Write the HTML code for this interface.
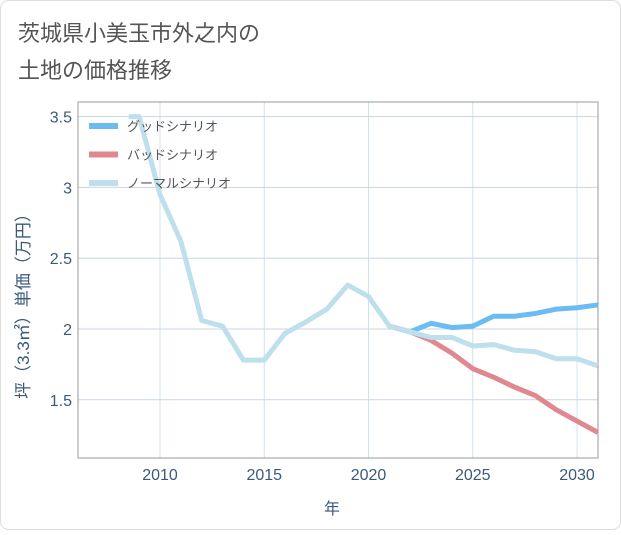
<!DOCTYPE html>
<html><head><meta charset="utf-8"><style>
body{margin:0;background:#fff;font-family:"Liberation Sans","Noto Sans CJK JP",sans-serif}
#wrap{position:relative;width:621px;height:530px}
</style></head><body>
<div id="wrap">
<svg id="svg" width="621" height="530" xmlns="http://www.w3.org/2000/svg">
<rect x="0.5" y="0.5" width="620" height="529" rx="8" fill="#fff" stroke="#ddd"/>
<text x="18" y="41" font-size="22" fill="#555" font-family="Liberation Sans,Noto Sans CJK JP,sans-serif">茨城県小美玉市外之内の</text>
<text x="18" y="78" font-size="22" fill="#555" font-family="Liberation Sans,Noto Sans CJK JP,sans-serif">土地の価格推移</text>
<g id="grid"></g>
<rect x="78" y="102" width="520" height="356" fill="none" stroke="#999"/>
<g id="series"></g>
<g id="legend"></g>
<text x="0" y="0" transform="translate(29,302) rotate(-90)" text-anchor="middle" font-size="17" fill="#3b5a7a" font-family="Liberation Sans,Noto Sans CJK JP,sans-serif">坪（3.3㎡）単価（万円）</text>
<text x="332" y="514" text-anchor="middle" font-size="16" fill="#3b5a7a" font-family="Liberation Sans,Noto Sans CJK JP,sans-serif">年</text>
</svg>
</div>
<script>
const xTicks=[2010,2015,2020,2025,2030];
const yTicks=[1.5,2,2.5,3,3.5];
const yTickLabels=["1.5","2","2.5","3","3.5"];
const normalYears=[2008.5,2009,2010,2011,2012,2013,2014,2015,2016,2017,2018,2019,2020,2021,2022,2023,2024,2025,2026,2027,2028,2029,2030,2031];
const normalValues=[3.5,3.5,2.95,2.62,2.06,2.02,1.78,1.78,1.97,2.05,2.14,2.31,2.23,2.02,1.98,1.94,1.94,1.88,1.89,1.85,1.84,1.79,1.79,1.74];
const goodYears=[2021,2022,2023,2024,2025,2026,2027,2028,2029,2030,2031];
const goodValues=[2.02,1.98,2.04,2.01,2.02,2.09,2.09,2.11,2.14,2.15,2.17];
const badYears=[2021,2022,2023,2024,2025,2026,2027,2028,2029,2030,2031];
const badValues=[2.02,1.98,1.92,1.83,1.72,1.66,1.59,1.53,1.43,1.35,1.27];
const NS="http://www.w3.org/2000/svg";
const X0=78,X1=598,Y0=102,Y1=458;
function xs(y){return 160+(y-2010)*20.85;}
function ys(v){return 329-(v-2)*141.6;}
function mk(t,a){const e=document.createElementNS(NS,t);for(const k in a)e.setAttribute(k,a[k]);return e;}
const grid=document.getElementById('grid');
xTicks.forEach(t=>{
 const l=mk('line',{x1:xs(t),x2:xs(t),y1:Y0,y2:Y1,stroke:'#cfe3ee','stroke-width':1});
 
 
 grid.appendChild(l);
 const tx=mk('text',{x:xs(t),y:480,'text-anchor':'middle','font-size':16,fill:'#3b5a7a'});
 
 
 tx.textContent=t;grid.appendChild(tx);
});
yTicks.forEach((t,i)=>{
 const l=mk('line',{x1:X0,x2:X1,y1:ys(t),y2:ys(t),stroke:'#c9d6e2','stroke-width':1});
 
 
 grid.appendChild(l);
 const tx=mk('text',{x:72,y:ys(t)+6,'text-anchor':'end','font-size':16,fill:'#3b5a7a'});
 
 
 tx.textContent=yTickLabels[i];grid.appendChild(tx);
});
const ser=document.getElementById('series');
function line(ys_,vs,color,name){
 const p=mk('polyline',{points:ys_.map((y,i)=>xs(y)+','+ys(vs[i])).join(' '),fill:'none',stroke:color,'stroke-width':5,'stroke-linejoin':'round','stroke-linecap':'butt'});
 
 
 ser.appendChild(p);
}
const cp=mk('clipPath',{id:'cp'});cp.appendChild(mk('rect',{x:X0,y:Y0,width:X1-X0,height:Y1-Y0}));
document.getElementById('svg').appendChild(cp);ser.setAttribute('clip-path','url(#cp)');
line(goodYears,goodValues,'#6bbcf2','good-scenario-line');
line(badYears,badValues,'#e0888f','bad-scenario-line');
line(normalYears,normalValues,'#bde0ec','normal-scenario-line');
const leg=document.getElementById('legend');
[['グッドシナリオ','#6bbcf2','legend-good'],['バッドシナリオ','#e0888f','legend-bad'],['ノーマルシナリオ','#bde0ec','legend-normal']].forEach((d,i)=>{
 const y=126+i*28.5;
 const g=mk('g',{});
 
 
 g.appendChild(mk('rect',{x:89,y:y-3,width:29,height:6,fill:d[1]}));
 const t=mk('text',{x:127,y:y+5,'font-size':13,fill:'#555'});t.textContent=d[0];g.appendChild(t);
 leg.appendChild(g);
});
</script>
</body></html>
